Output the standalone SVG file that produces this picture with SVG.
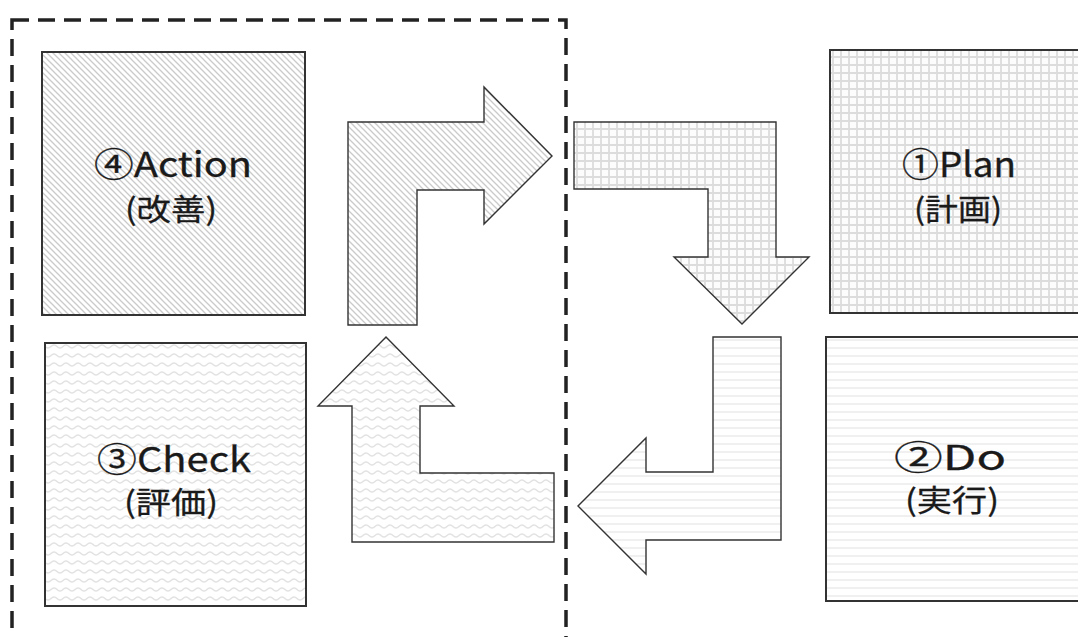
<svg xmlns="http://www.w3.org/2000/svg" width="1078" height="637" viewBox="0 0 1078 637">
  <defs>
    <!-- fill patterns: one per PDCA stage -->
    <pattern id="diag" width="6" height="6" patternUnits="userSpaceOnUse">
      <rect width="6" height="6" fill="#fff"/>
      <path d="M-1,-1 L7,7 M-1,5 L1,7 M5,-1 L7,1" stroke="#cacaca" stroke-width="1.3"/>
    </pattern>
    <pattern id="grid" width="8" height="8" patternUnits="userSpaceOnUse">
      <rect width="8" height="8" fill="#fcfcfc"/>
      <path d="M0,1 H8 M1,0 V8" stroke="#dcdcdc" stroke-width="1.8"/>
    </pattern>
    <pattern id="hlines" width="8" height="8" patternUnits="userSpaceOnUse">
      <rect width="8" height="8" fill="#fff"/>
      <path d="M0,4 H8" stroke="#f0f0f0" stroke-width="2"/>
    </pattern>
    <pattern id="wave" width="12" height="9" patternUnits="userSpaceOnUse">
      <rect width="12" height="9" fill="#fff"/>
      <path d="M0,6 Q1.5,6 3,4.5 Q4.5,3 6,3 Q7.5,3 9,4.5 Q10.5,6 12,6" fill="none" stroke="#e2e2e2" stroke-width="1.5"/>
    </pattern>
    <style>
      .box { stroke: #333; stroke-width: 2; }
      .arrow { stroke: #333; stroke-width: 1.4; stroke-linejoin: miter; }
      .lbl { font-family: "Noto Sans CJK JP", "Noto Sans", sans-serif; fill: #1a1a1a; stroke: #1a1a1a; stroke-width: 0.3; text-anchor: middle; }
      .t1 { font-size: 34px; }
      .t2 { font-size: 30px; }
    </style>
  </defs>

  <rect width="1078" height="637" fill="#fff"/>

  <!-- dashed frame around Check / Action -->
  <rect x="12" y="20" width="554" height="660" fill="none" stroke="#222" stroke-width="3.5" stroke-dasharray="17 9"/>

  <g id="action">
    <rect class="box" x="42" y="52" width="263" height="263" fill="url(#diag)"/>
    <text class="lbl t1" x="173" y="177" textLength="158" lengthAdjust="spacingAndGlyphs">④Action</text>
    <text class="lbl t2" x="171" y="220" textLength="92" lengthAdjust="spacingAndGlyphs">(改善)</text>
  </g>

  <g id="plan">
    <rect class="box" x="830" y="50" width="260" height="263" fill="url(#grid)"/>
    <text class="lbl t1" x="959" y="177" textLength="114" lengthAdjust="spacingAndGlyphs">①Plan</text>
    <text class="lbl t2" x="958" y="220" textLength="88" lengthAdjust="spacingAndGlyphs">(計画)</text>
  </g>

  <g id="do">
    <rect class="box" x="826" y="337" width="264" height="264" fill="url(#hlines)"/>
    <text class="lbl t1" x="950" y="470" textLength="112" lengthAdjust="spacingAndGlyphs">②Do</text>
    <text class="lbl t2" x="952" y="511" textLength="94" lengthAdjust="spacingAndGlyphs">(実行)</text>
  </g>

  <g id="check">
    <rect class="box" x="45" y="343" width="261" height="263" fill="url(#wave)"/>
    <text class="lbl t1" x="174" y="472" textLength="154" lengthAdjust="spacingAndGlyphs">③Check</text>
    <text class="lbl t2" x="171" y="513" textLength="94" lengthAdjust="spacingAndGlyphs">(評価)</text>
  </g>

  <g id="connectors">
    <polygon class="arrow" fill="url(#diag)" points="348,325 348,122 484,122 484,87 552,156 484,224 484,190 417,190 417,325"/>
    <polygon class="arrow" fill="url(#grid)" points="574,122 776,122 776,257 809,257 742,324 674,257 708,257 708,189 574,189"/>
    <polygon class="arrow" fill="url(#hlines)" points="713,337 781,337 781,540 646,540 646,574 578,506 646,438 646,472 713,472"/>
    <polygon class="arrow" fill="url(#wave)" points="386,337 454,406 420,406 420,473 554,473 554,542 352,542 352,406 318,406"/>
  </g>
</svg>
